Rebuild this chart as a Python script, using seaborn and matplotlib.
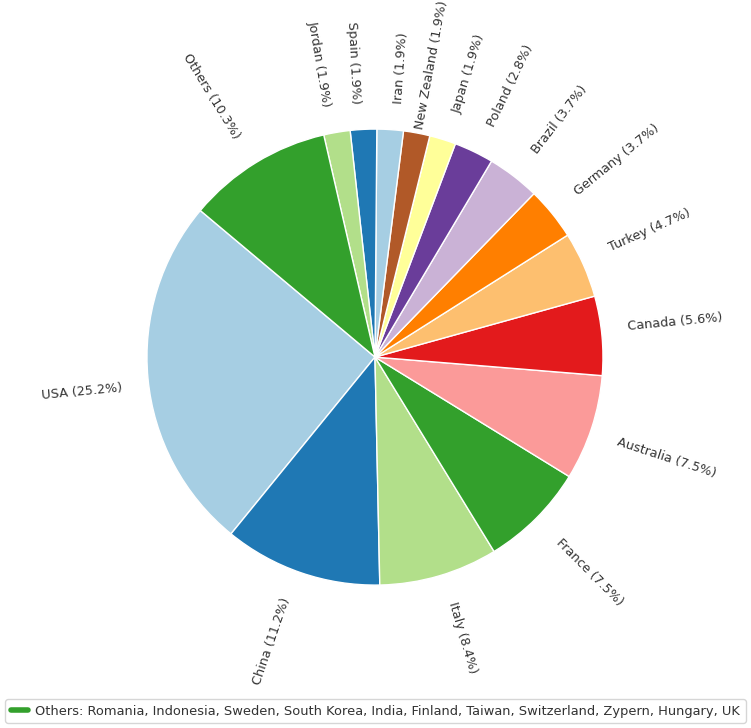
import numpy as np
import matplotlib
matplotlib.use("Agg")
import matplotlib.pyplot as plt
from matplotlib.lines import Line2D
import seaborn as sns

countries = ["USA", "China", "Italy", "France", "Australia", "Canada", "Turkey",
             "Germany", "Brazil", "Poland", "Japan", "New Zealand", "Iran",
             "Spain", "Jordan", "Others"]
counts = [27, 12, 9, 8, 8, 6, 5, 4, 4, 3, 2, 2, 2, 2, 2, 11]
others_list = ["Romania", "Indonesia", "Sweden", "South Korea", "India", "Finland",
               "Taiwan", "Switzerland", "Zypern", "Hungary", "UK"]

sns.set_style("white")
plt.rcParams["font.family"] = ["DejaVu Sans"]
plt.rcParams["text.color"] = "#333333"

total = sum(counts)
labels = [f"{c} ({n / total * 100:.1f}%)" for c, n in zip(countries, counts)]
colors = sns.color_palette("Paired", 12)

fig = plt.figure(figsize=(7.51, 7.28), dpi=100)
ax = fig.add_axes([0.1198, 0.118, 0.759, 0.783])
wedges, texts = ax.pie(counts, labels=labels, colors=colors, startangle=140,
                       rotatelabels=True, labeldistance=1.11,
                       wedgeprops=dict(edgecolor="white", linewidth=1),
                       textprops=dict(fontsize=9.2, color="#333333"))
ax.set_aspect("equal")

# pull the long New Zealand label in so it fits at the top
i = countries.index("New Zealand")
w = wedges[i]
ang = np.deg2rad((w.theta1 + w.theta2) / 2 + 1.0)
texts[i].set_position((1.01 * np.cos(ang), 1.01 * np.sin(ang)))

handle = Line2D([0], [0], color=colors[3], lw=4)
fig.legend([handle], ["Others: " + ", ".join(others_list)], loc="lower center",
           bbox_to_anchor=(0.5, 0.0), fontsize=9.4, frameon=True,
           handlelength=1.3, handletextpad=0.6, borderaxespad=0.4)

fig.savefig("out.png", dpi=100)
